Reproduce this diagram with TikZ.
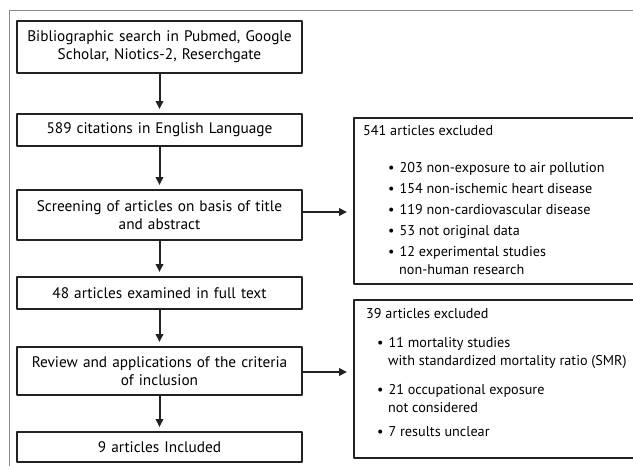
\documentclass[tikz,border=0pt]{standalone}
\usepackage{fontspec}
\setmainfont{PT Sans}
\usetikzlibrary{arrows.meta,positioning}
\definecolor{boxline}{HTML}{222222}
\definecolor{frameline}{HTML}{8A8A8A}
\newlength{\lw}
\setlength{\lw}{2pt}
\tikzset{every picture/.append style={line join=round,line cap=butt}}
\tikzset{every picture/.append style={>={Triangle[length=8pt,width=7.5pt]}}}
\tikzset{stepbox/.style={draw=boxline,line width=\lw,minimum width=285pt,text width=280pt,
  align=center,inner sep=0pt,font=\fontsize{15.3}{18}\selectfont}}
\tikzset{exclbox/.style={draw=boxline,line width=\lw,anchor=north west,minimum width=340pt,inner sep=0pt}}
\tikzset{excltext/.style={anchor=base west,inner sep=0pt,align=left,font=\fontsize{14.2}{18}\selectfont}}
\tikzset{flow/.style={->,draw=boxline,line width=\lw,shorten >=4pt}}
\begin{document}
\begin{tikzpicture}[x=1pt,y=-1pt]
\useasboundingbox (0,0) rectangle (633,466);
\clip (0,0) rectangle (633,466);

% frame
\draw[frameline,line width=1.4pt] (9.5,475) -- (9.5,10.5) -- (640,10.5);

% main steps
\node[stepbox,minimum height=52pt] (search) at (159.5,47) {Bibliographic search in Pubmed, Google\\ Scholar, Niotics-2, Reserchgate};
\node[stepbox,minimum height=32pt] (cites) at (159.5,130) {589 citations in English Language};
\node[stepbox,minimum height=50pt] (screen) at (159.5,215) {Screening of articles on basis of title\\ and abstract};
\node[stepbox,minimum height=32pt] (full) at (159.5,293) {48 articles examined in full text};
\node[stepbox,minimum height=48pt] (review) at (159.5,371) {Review and applications of the criteria\\ of inclusion};
\node[stepbox,minimum height=30pt] (incl) at (159.5,447) {9 articles Included};

\draw[flow] (search) -- (cites);
\draw[flow] (cites) -- (screen);
\draw[flow] (screen) -- (full);
\draw[flow] (full) -- (review);
\draw[flow] (review) -- (incl);

% exclusions
\node[exclbox,minimum height=166pt] (excla) at (353,117) {};
\node[exclbox,minimum height=158pt] (exclb) at (353,299) {};

\draw[flow,shorten >=6pt] (screen.east |- 0,212) -- (excla.west |- 0,212);
\draw[flow,shorten >=6pt] (review.east |- 0,372) -- (exclb.west |- 0,372);

\node[excltext] (heada) at (363,135) {541 articles excluded};
\node[excltext] (lista) at (388,172) {\textbullet\hspace{5pt}203 non-exposure to air pollution};
\node[excltext] at (388,193) {\textbullet\hspace{5pt}154 non-ischemic heart disease};
\node[excltext] at (388,214) {\textbullet\hspace{5pt}119 non-cardiovascular disease};
\node[excltext] at (388,235) {\textbullet\hspace{5pt}53 not original data};
\node[excltext] at (388,256) {\textbullet\hspace{5pt}12 experimental studies};
\node[excltext] at (399,274) {non-human research};

\node[excltext] (headb) at (366,318) {39 articles excluded};
\node[excltext] (listb) at (377,347) {\textbullet\hspace{5pt}11 mortality studies};
\node[excltext] at (388,365) {with standardized mortality ratio (SMR)};
\node[excltext] at (377,394) {\textbullet\hspace{5pt}21 occupational exposure};
\node[excltext] at (388,412) {not considered};
\node[excltext] at (377,436) {\textbullet\hspace{5pt}7 results unclear};
\end{tikzpicture}
\end{document}
